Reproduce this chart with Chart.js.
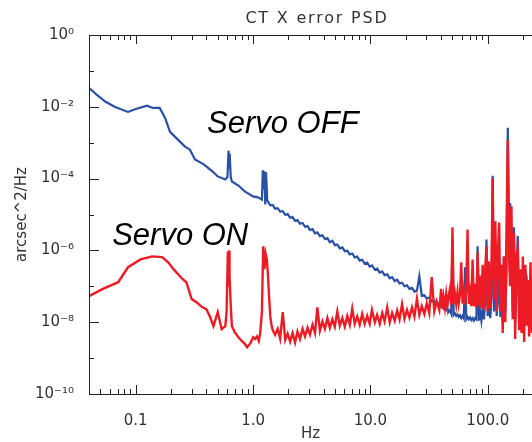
<!DOCTYPE html>
<html>
<head>
<meta charset="utf-8">
<script src="https://cdn.jsdelivr.net/npm/chart.js@4.4.1/dist/chart.umd.min.js"></script>
<style>
  html, body { margin: 0; padding: 0; background: #fff; }
</style>
</head>
<body>
<canvas id="psdChart" width="532" height="442"></canvas>
<script>
// --- chart text ---
var chartTitle = 'CT X error PSD';
var xTitle = 'Hz';
var yTitle = 'arcsec^2/Hz';
var xTickValues = [0.1, 1, 10, 100];
var xTickLabels = ['0.1', '1.0', '10.0', '100.0'];
var yTickValues = [1e-10, 1e-8, 1e-6, 1e-4, 1e-2, 1];
var yTickLabels = ['10\u207B\u00B9\u2070', '10\u207B\u2078', '10\u207B\u2076', '10\u207B\u2074', '10\u207B\u00B2', '10\u2070'];

// --- annotations (text, Hz, psd at baseline start) ---
var annoText = ['Servo OFF', 'Servo ON'];
var annoFreq = [0.405, 0.063];
var annoPsd = [1.9e-3, 1.4e-6];

// --- Servo OFF, low frequency part ---
var offLowFreq = [0.040, 0.047, 0.055, 0.066, 0.086, 0.10, 0.125, 0.14, 0.16, 0.178,
  0.196, 0.23, 0.263, 0.29, 0.32, 0.38, 0.45, 0.50, 0.58, 0.605,
  0.618, 0.625, 0.632, 0.645, 0.66, 0.75, 0.85, 1.0, 1.1, 1.19,
  1.21, 1.23, 1.25, 1.27, 1.29, 1.32, 1.35, 1.40];
var offLowPsd = [3.4e-2, 2.1e-2, 1.4e-2, 1.0e-2, 7.2e-3, 8.7e-3, 1.07e-2, 9.3e-3, 9.3e-3, 4.9e-3,
  2.0e-3, 1.2e-3, 7.8e-4, 6.4e-4, 3.4e-4, 2.5e-4, 1.6e-4, 1.15e-4, 9.5e-5, 1.1e-4,
  6e-4, 2e-4, 5e-4, 1.1e-4, 8.3e-5, 6.4e-5, 4.4e-5, 3.2e-5, 3.0e-5, 2.6e-5,
  1.7e-4, 5e-5, 1.6e-4, 1.9e-5, 1.5e-4, 2.5e-5, 2.2e-5, 1.8e-5];

// --- Servo ON, low frequency part ---
var onLowFreq = [0.040, 0.052, 0.071, 0.086, 0.11, 0.138, 0.168, 0.19, 0.21, 0.25,
  0.27, 0.30, 0.33, 0.37, 0.40, 0.43, 0.46, 0.50, 0.54, 0.58,
  0.595, 0.61, 0.615, 0.625, 0.63, 0.645, 0.66, 0.70, 0.75, 0.80,
  0.85, 0.89, 0.95, 1.0, 1.04, 1.08, 1.12, 1.15, 1.19, 1.22,
  1.25, 1.28, 1.31, 1.34, 1.37, 1.40, 1.44];
var onLowPsd = [5.3e-8, 8.3e-8, 1.3e-7, 3.4e-7, 5.6e-7, 6.8e-7, 6.5e-7, 4.6e-7, 3e-7, 1.6e-7,
  1.3e-7, 4.4e-8, 3.6e-8, 2.6e-8, 2.3e-8, 1.4e-8, 7.8e-9, 1.9e-8, 6.4e-9, 7.8e-9,
  2e-8, 9.3e-7, 1e-7, 1e-6, 2e-7, 3e-8, 7.8e-9, 5.2e-9, 3.8e-9, 3e-9,
  2.5e-9, 2e-9, 2.6e-9, 3.8e-9, 3.4e-9, 4e-9, 3e-9, 5e-9, 2e-8, 1.3e-6,
  3e-7, 8e-7, 5.6e-7, 2e-7, 5e-8, 1.5e-8, 7.8e-9];

// --- noisy part, both curves (Hz) ---
var noiseFreq = [1.47, 1.54, 1.62, 1.70, 1.79, 1.88, 1.97, 2.07, 2.17, 2.28,
  2.39, 2.51, 2.64, 2.77, 2.91, 3.05, 3.21, 3.37, 3.53, 3.71,
  3.90, 4.09, 4.30, 4.51, 4.74, 4.97, 5.22, 5.48, 5.76, 6.05,
  6.35, 6.67, 7.00, 7.35, 7.72, 8.10, 8.51, 8.93, 9.38, 9.85,
  10.3, 10.9, 11.4, 12.0, 12.6, 13.2, 13.9, 14.6, 15.3, 16.1,
  16.9, 17.7, 18.6, 19.5, 20.5, 21.5, 22.6, 23.7, 24.9, 26.1,
  27.4, 28.8, 30.2, 31.7, 33.3, 35.0, 36.7, 38.6, 40.0, 41.0,
  42.0, 43.1, 44.2, 45.3, 46.4, 47.6, 48.8, 50.0, 51.2, 52.5,
  53.8, 55.2, 56.5, 58.0, 59.4, 60.9, 62.4, 64.0, 65.6, 67.2,
  68.9, 70.6, 72.4, 74.2, 76.1, 78.0, 79.9, 81.9, 84.0, 86.1,
  88.2, 90.4, 92.7, 95.0, 97.4, 99.8, 102, 105, 107.5, 110,
  113, 116, 119, 122, 125, 128, 131, 134, 137, 141,
  144, 148, 152, 155, 159, 163, 167, 171, 176, 180,
  185, 189, 194, 199, 204, 209, 214, 220, 225, 231,
  237, 243];

var offNoisePsd = [1.85e-5, 1.45e-5, 1.5e-5, 1.2e-5, 1.24e-5, 9.8e-6, 1.03e-5, 8.1e-6, 8.5e-6, 6.6e-6,
  7.0e-6, 5.5e-6, 5.8e-6, 4.55e-6, 4.75e-6, 3.7e-6, 3.9e-6, 3.0e-6, 3.2e-6, 2.5e-6,
  2.65e-6, 2.08e-6, 2.2e-6, 1.69e-6, 1.85e-6, 1.4e-6, 1.46e-6, 1.14e-6, 1.21e-6, 9.5e-7,
  9.8e-7, 7.7e-7, 8.2e-7, 6.4e-7, 6.7e-7, 5.2e-7, 5.5e-7, 4.3e-7, 4.55e-7, 3.55e-7,
  3.8e-7, 2.9e-7, 3.1e-7, 2.4e-7, 2.6e-7, 2.05e-7, 2.15e-7, 1.67e-7, 1.8e-7, 1.4e-7,
  1.52e-7, 1.2e-7, 1.26e-7, 1.0e-7, 1.06e-7, 8.5e-8, 9.0e-8, 7.1e-8, 7.5e-8, 1.9e-7,
  5.4e-8, 5.6e-8, 4.55e-8, 4.85e-8, 3.8e-8, 4.0e-8, 3.15e-8, 3.35e-8, 2.7e-8, 2.95e-8,
  2.4e-8, 2.7e-8, 2.2e-8, 2.4e-8, 1.95e-8, 2.15e-8, 1.75e-8, 2.0e-6, 1.6e-8, 1.75e-8,
  1.5e-8, 1.65e-8, 1.4e-8, 1.55e-8, 1.3e-8, 1.5e-8, 1.28e-8, 3.4e-7, 1.22e-8, 1.4e-8,
  1.2e-8, 1.35e-8, 1.15e-8, 1.3e-8, 1.1e-8, 1.3e-8, 1.2e-8, 1.3e-6, 1.1e-8, 2.0e-8,
  1.1e-8, 2.5e-8, 1.2e-8, 4e-8, 2.0e-6, 1.5e-8, 3e-8, 1.3e-8, 5e-8, 1.2e-4,
  2e-8, 6e-7, 1.5e-8, 4e-8, 2e-7, 1.4e-8, 5e-8, 1e-8, 6.8e-7, 2e-8,
  1.5e-7, 2.6e-3, 1e-6, 2.1e-5, 3e-6, 2e-8, 4.4e-6, 1e-8, 3e-7, 2.5e-6,
  1e-8, 2e-7, 8e-9, 5e-8, 1e-8, 3e-7, 1.8e-7, 1e-8, 5e-8, 8e-9,
  2e-7, 1e-8];

var onNoisePsd = [6e-9, 4.5e-9, 6.5e-9, 3.5e-9, 1.9e-8, 3.2e-9, 4.8e-9, 2.9e-9, 5e-9, 2.7e-9,
  5.5e-9, 3.4e-9, 6.5e-9, 4e-9, 7e-9, 4.5e-9, 8.5e-9, 5e-9, 2.6e-8, 5.8e-9,
  1.05e-8, 6.5e-9, 1.3e-8, 7e-9, 1.2e-8, 7.5e-9, 2e-8, 8e-9, 1.3e-8, 7.5e-9,
  1.5e-8, 8.5e-9, 2.4e-8, 9e-9, 1.45e-8, 8.5e-9, 1.7e-8, 9e-9, 1.5e-8, 9e-9,
  2.2e-8, 1e-8, 1.6e-8, 9e-9, 1.8e-8, 1.05e-8, 2.6e-8, 1e-8, 1.8e-8, 1.1e-8,
  2.1e-8, 1.2e-8, 3.2e-8, 1.25e-8, 2.2e-8, 1.35e-8, 2.6e-8, 1.45e-8, 4.5e-8, 1.6e-8,
  2.8e-8, 1.7e-8, 3.4e-8, 1.8e-8, 1.8e-7, 2e-8, 3.8e-8, 2.2e-8, 8.5e-8, 2.4e-8,
  5e-8, 2.6e-8, 6e-8, 2.8e-8, 5.5e-8, 8.5e-8, 3e-8, 4.4e-6, 3.3e-8, 6e-8,
  3.2e-8, 7e-8, 3.3e-8, 6e-8, 4.7e-7, 3.3e-8, 7e-8, 3.1e-8, 8e-8, 3.8e-6,
  3.2e-8, 6.5e-8, 2.8e-8, 5.6e-7, 2.8e-8, 1.2e-7, 2.5e-8, 8.7e-7, 3e-8, 2e-7,
  2.5e-8, 4e-7, 2.2e-8, 3e-7, 1.3e-6, 2e-8, 5e-7, 2.5e-8, 3e-7, 1e-4,
  4e-8, 6.5e-6, 2e-8, 1e-6, 6e-6, 2e-8, 4e-7, 5e-9, 6.8e-7, 1e-8,
  1.7e-6, 1.2e-3, 5e-7, 1e-7, 1.7e-5, 1.2e-8, 3e-6, 3.4e-9, 8e-7, 1.1e-6,
  6e-9, 3e-7, 5e-9, 6.8e-7, 2.8e-9, 4e-7, 8e-9, 1.5e-7, 4e-9, 4.7e-7,
  5e-9, 1.5e-7];

var offColor = '#2850a5';
var onColor = '#ed1c24';
var textColor = '#333';

function toPoints(freqs, psds) {
  return freqs.map(function(f, i) { return {x: f, y: psds[i]}; });
}

// inward ticks, frame, title and the two big labels
var frameTicks = {
  id: 'frameTicks',
  afterDatasetsDraw: function(chart) {
    var ctx = chart.ctx, a = chart.chartArea, xs = chart.scales.x, ys = chart.scales.y;
    ctx.save();
    ctx.strokeStyle = '#222';
    ctx.lineWidth = 1;
    ctx.beginPath();
    ctx.moveTo(a.left + 0.5, a.top); ctx.lineTo(a.left + 0.5, a.bottom + 1);
    ctx.moveTo(a.left, a.top + 0.5); ctx.lineTo(a.right, a.top + 0.5);
    ctx.moveTo(a.left, a.bottom + 0.5); ctx.lineTo(a.right, a.bottom + 0.5);
    for (var d = -2; d <= 2; d++) {
      for (var m = 1; m <= 9; m++) {
        var v = m * Math.pow(10, d);
        if (v <= xs.min || v > xs.max) continue;
        var px = Math.round(xs.getPixelForValue(v)) + 0.5;
        var len = m === 1 ? 9 : 5;
        ctx.moveTo(px, a.bottom); ctx.lineTo(px, a.bottom - len);
        ctx.moveTo(px, a.top); ctx.lineTo(px, a.top + len);
      }
    }
    for (var e = -10; e <= 0; e++) {
      var py = Math.round(ys.getPixelForValue(Math.pow(10, e))) + 0.5;
      var l2 = (e % 2 === 0) ? 10 : 5;
      ctx.moveTo(a.left, py); ctx.lineTo(a.left + l2, py);
    }
    ctx.stroke();

    // title, spaced out like the original
    ctx.fillStyle = textColor;
    ctx.font = '16px "DejaVu Sans", sans-serif';
    ctx.letterSpacing = '1.8px';
    ctx.textAlign = 'center';
    ctx.textBaseline = 'middle';
    ctx.fillText(chartTitle, 317, 19);
    ctx.letterSpacing = '0px';

    ctx.fillStyle = '#000';
    ctx.font = 'italic 31px "Liberation Sans", Arial, sans-serif';
    ctx.textAlign = 'left';
    ctx.textBaseline = 'alphabetic';
    for (var i = 0; i < annoText.length; i++) {
      ctx.fillText(annoText[i], xs.getPixelForValue(annoFreq[i]), ys.getPixelForValue(annoPsd[i]));
    }
    ctx.restore();
  }
};

window.onload = function() {
  var ctx = document.getElementById('psdChart').getContext('2d');
  var tickFont = {family: '"DejaVu Sans", sans-serif', size: 15, weight: 'normal', lineHeight: 1};
  var myChart = new Chart(ctx, {
    type: 'line',
    data: {
      datasets: [{
        label: 'Servo ON',
        data: toPoints(onLowFreq.concat(noiseFreq), onLowPsd.concat(onNoisePsd)),
        borderColor: onColor,
        borderWidth: 2.4,
        pointRadius: 0,
        tension: 0,
        order: 1
      }, {
        label: 'Servo OFF',
        data: toPoints(offLowFreq.concat(noiseFreq), offLowPsd.concat(offNoisePsd)),
        borderColor: offColor,
        borderWidth: 2.2,
        pointRadius: 0,
        tension: 0,
        order: 2
      }]
    },
    options: {
      responsive: false,
      animation: false,
      events: [],
      layout: {padding: {top: 35}},
      plugins: {
        legend: {display: false},
        tooltip: {enabled: false},
        title: {display: false}
      },
      scales: {
        x: {
          type: 'logarithmic',
          min: 0.04,
          max: 238,
          bounds: 'data',
          grid: {display: false},
          border: {display: false},
          afterBuildTicks: function(s) { s.ticks = xTickValues.map(function(v) { return {value: v}; }); },
          afterFit: function(s) { s.height = 48; },
          ticks: {
            autoSkip: false, maxRotation: 0, padding: 12, color: textColor, font: tickFont,
            callback: function(v, i) { return xTickLabels[i]; }
          },
          title: {display: true, text: xTitle, color: textColor, font: tickFont, padding: 0}
        },
        y: {
          type: 'logarithmic',
          min: 1e-10,
          max: 1,
          bounds: 'data',
          grid: {display: false},
          border: {display: false},
          afterBuildTicks: function(s) { s.ticks = yTickValues.map(function(v) { return {value: v}; }); },
          afterFit: function(s) { s.width = 89; },
          ticks: {
            autoSkip: false, padding: 7, color: textColor, font: tickFont,
            callback: function(v, i) { return yTickLabels[i]; }
          },
          title: {display: true, text: yTitle, color: textColor, font: tickFont, padding: {top: 15, bottom: 0}}
        }
      }
    },
    plugins: [frameTicks]
  });
};
</script>
</body>
</html>
